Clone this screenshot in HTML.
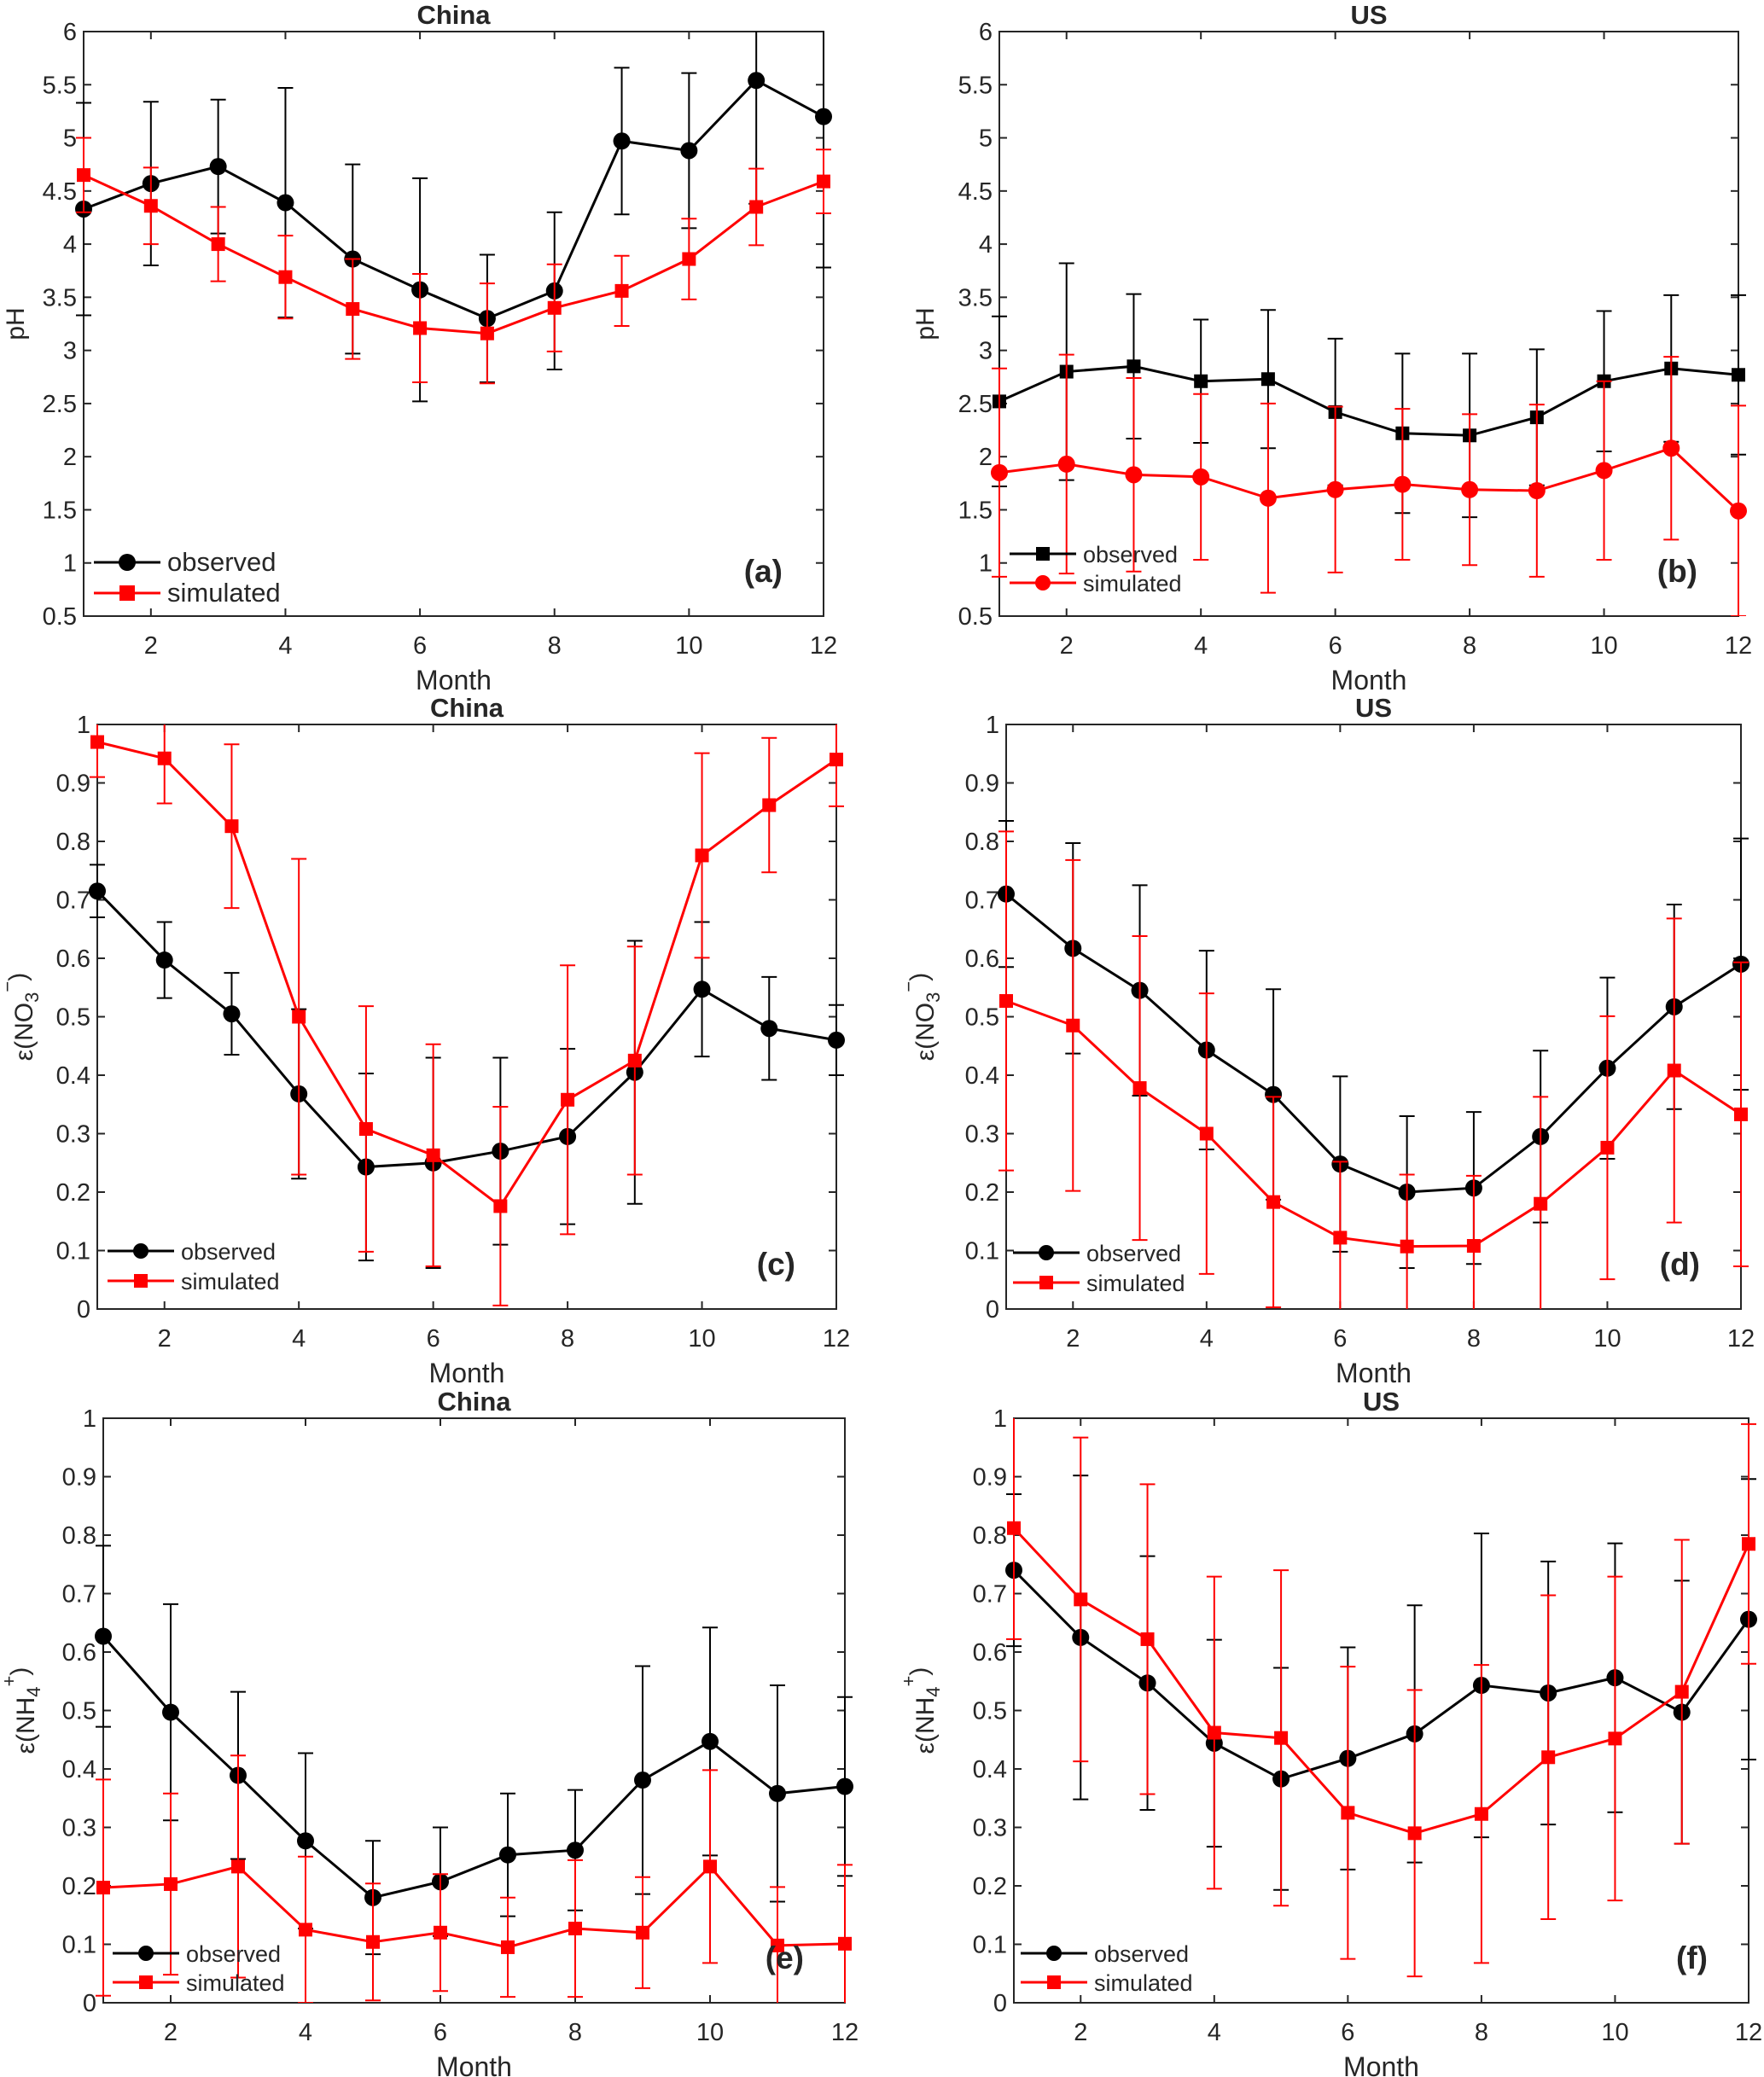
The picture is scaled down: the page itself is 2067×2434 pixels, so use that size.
<!DOCTYPE html>
<html><head><meta charset="utf-8"><style>
body{margin:0;background:#fff}
svg{display:block}
text{font-family:"Liberation Sans",Arial,sans-serif;fill:#262626}
</style></head><body>
<svg id="fig" width="2067" height="2434" viewBox="0 0 2067 2434" xmlns="http://www.w3.org/2000/svg"></svg>
<script>
const months=[1,2,3,4,5,6,7,8,9,10,11,12];
const xTickLabels=["2","4","6","8","10","12"];
const phTicks=["0.5","1","1.5","2","2.5","3","3.5","4","4.5","5","5.5","6"];
const epsTicks=["0","0.1","0.2","0.3","0.4","0.5","0.6","0.7","0.8","0.9","1"];
// (a) China pH
const aObs=[4.33,4.57,4.73,4.39,3.86,3.57,3.30,3.56,4.97,4.88,5.54,5.20];
const aObsErr=[1.0,0.77,0.63,1.08,0.89,1.05,0.60,0.74,0.69,0.73,1.16,1.42];
const aSim=[4.65,4.36,4.00,3.69,3.39,3.21,3.16,3.40,3.56,3.86,4.35,4.59];
const aSimErr=[0.35,0.36,0.35,0.39,0.47,0.51,0.47,0.41,0.33,0.38,0.36,0.30];
// (b) US pH
const bObs=[2.52,2.80,2.85,2.71,2.73,2.42,2.22,2.20,2.37,2.71,2.83,2.77];
const bObsErr=[0.8,1.02,0.68,0.58,0.65,0.69,0.75,0.77,0.64,0.66,0.69,0.75];
const bSim=[1.85,1.93,1.83,1.81,1.61,1.69,1.74,1.69,1.68,1.87,2.08,1.49];
const bSimErr=[0.98,1.03,0.91,0.78,0.89,0.78,0.71,0.71,0.81,0.84,0.86,0.99];
// (c) China NO3
const cObs=[0.715,0.597,0.505,0.368,0.243,0.250,0.270,0.295,0.405,0.547,0.480,0.460];
const cObsErr=[0.045,0.065,0.07,0.145,0.16,0.18,0.16,0.15,0.225,0.115,0.088,0.06];
const cSim=[0.970,0.942,0.826,0.500,0.308,0.263,0.176,0.358,0.425,0.776,0.862,0.940];
const cSimErr=[0.06,0.077,0.14,0.27,0.21,0.19,0.17,0.23,0.195,0.175,0.115,0.08];
// (d) US NO3
const dObs=[0.710,0.617,0.545,0.443,0.367,0.248,0.200,0.207,0.295,0.412,0.517,0.590];
const dObsErr=[0.125,0.18,0.18,0.17,0.18,0.15,0.13,0.13,0.147,0.155,0.175,0.215];
const dSim=[0.527,0.485,0.378,0.300,0.183,0.122,0.107,0.108,0.180,0.276,0.408,0.333];
const dSimErr=[0.29,0.283,0.26,0.24,0.18,0.13,0.123,0.12,0.183,0.225,0.26,0.26];
// (e) China NH4
const eObs=[0.627,0.497,0.389,0.277,0.180,0.207,0.253,0.261,0.381,0.447,0.358,0.370];
const eObsErr=[0.155,0.185,0.143,0.15,0.097,0.093,0.105,0.103,0.195,0.195,0.185,0.153];
const eSim=[0.197,0.203,0.233,0.125,0.104,0.120,0.095,0.127,0.120,0.233,0.098,0.101];
const eSimErr=[0.185,0.155,0.19,0.125,0.1,0.1,0.085,0.117,0.095,0.165,0.10,0.135];
// (f) US NH4
const fObs=[0.740,0.625,0.547,0.444,0.383,0.418,0.460,0.543,0.530,0.556,0.497,0.656];
const fObsErr=[0.13,0.277,0.217,0.177,0.19,0.19,0.22,0.26,0.225,0.23,0.225,0.24];
const fSim=[0.812,0.690,0.622,0.462,0.453,0.325,0.290,0.323,0.420,0.452,0.532,0.785];
const fSimErr=[0.19,0.277,0.265,0.267,0.287,0.25,0.245,0.255,0.277,0.277,0.26,0.205];

const NS="http://www.w3.org/2000/svg";
const svg=document.getElementById('fig');
function mk(tag,attrs,parent){const e=document.createElementNS(NS,tag);for(const k in attrs)e.setAttribute(k,attrs[k]);(parent||svg).appendChild(e);return e;}

function marker(g,shape,x,y,color,size){
  if(shape==='circle'){return mk('circle',{cx:x,cy:y,r:size,fill:color},g);}
  return mk('rect',{x:x-size,y:y-size,width:size*2,height:size*2,fill:color},g);
}

function panel(p){
  const g=mk('g',{});
  
  
  const X=m=>p.L+(m-1)*(p.R-p.L)/11;
  const Y=v=>p.B-(v-p.ymin)*(p.B-p.T)/(p.ymax-p.ymin);
  const cid='clip-'+p.name;
  const cp=mk('clipPath',{id:cid},g);mk('rect',{x:p.L-20,y:p.T,width:p.R-p.L+40,height:p.B-p.T},cp);
  // title
  const t=mk('text',{x:(p.L+p.R)/2,y:p.T-9,'text-anchor':'middle','font-size':31,'font-weight':'bold'},g);
  t.textContent=p.title;
  // axes frame
  const fr=mk('rect',{x:p.L,y:p.T,width:p.R-p.L,height:p.B-p.T,fill:'none',stroke:'#262626','stroke-width':2},g);
  
  // y ticks
  p.yticks.forEach(lbl=>{
    const v=parseFloat(lbl),y=Y(v);
    mk('line',{x1:p.L,y1:y,x2:p.L+9,y2:y,stroke:'#262626','stroke-width':2},g);
    mk('line',{x1:p.R,y1:y,x2:p.R-9,y2:y,stroke:'#262626','stroke-width':2},g);
    const tx=mk('text',{x:p.L-8,y:y+10,'text-anchor':'end','font-size':29},g);
    tx.textContent=lbl;
  });
  xTickLabels.forEach(lbl=>{
    const x=X(parseFloat(lbl));
    mk('line',{x1:x,y1:p.B,x2:x,y2:p.B-9,stroke:'#262626','stroke-width':2},g);
    mk('line',{x1:x,y1:p.T,x2:x,y2:p.T+9,stroke:'#262626','stroke-width':2},g);
    const tx=mk('text',{x:x,y:p.B+44,'text-anchor':'middle','font-size':29},g);
    tx.textContent=lbl;
  });
  const xl=mk('text',{x:(p.L+p.R)/2,y:p.B+86,'text-anchor':'middle','font-size':32},g);
  xl.textContent='Month';
  const yl=mk('text',{x:0,y:0,'text-anchor':'middle','font-size':30,transform:`translate(${p.yLabelX},${(p.T+p.B)/2}) rotate(-90)`},g);
  
  if(p.ylabel==='pH'){yl.textContent='pH';}
  else{
    const a=mk('tspan',{},yl);a.textContent='ε(';
    const b=mk('tspan',{},yl);b.textContent=p.ylabel==='NO3'?'NO':'NH';
    const c=mk('tspan',{'baseline-shift':'-30%','font-size':22},yl);c.textContent=p.ylabel==='NO3'?'3':'4';
    const d=mk('tspan',{dy:-22,'font-size':22},yl);d.textContent=p.ylabel==='NO3'?'−':'+';
    const e=mk('tspan',{dy:15},yl);e.textContent=')';
  }
  // series
  const data=mk('g',{'clip-path':`url(#${cid})`},g);
  p.series.forEach(s=>{
    const sg=mk('g',{},data);
    
    s.vals.forEach((v,i)=>{
      const x=X(months[i]),y1=Y(v+s.err[i]),y2=Y(v-s.err[i]);
      const eb=mk('path',{d:`M${x},${y1}V${y2}M${x-9},${y1}H${x+9}M${x-9},${y2}H${x+9}`,stroke:s.color,'stroke-width':2,fill:'none'},sg);
      
    });
    const pts=s.vals.map((v,i)=>X(months[i])+','+Y(v)).join(' ');
    const ln=mk('polyline',{points:pts,fill:'none',stroke:s.color,'stroke-width':3},sg);
    
    s.vals.forEach((v,i)=>{
      const m=marker(sg,s.shape,X(months[i]),Y(v),s.color,s.shape==='circle'?10:8);
      
    });
  });
  // legend
  const lg=mk('g',{},g);
  
  p.series.forEach((s,k)=>{
    const y=p.B+p.legY[k];
    mk('line',{x1:p.L+p.legX,y1:y,x2:p.L+p.legX+p.legW,y2:y,stroke:s.color,'stroke-width':3},lg);
    const m=marker(lg,s.shape,p.L+p.legX+p.legW/2,y,s.color,s.shape==='circle'?p.legMs:p.legMs-1);
    
    const tx=mk('text',{x:p.L+p.legX+p.legW+8,y:y+10,'font-size':p.legFs,fill:'#000'},lg);
    tx.textContent=s.label;
  });
  const pl=mk('text',{x:p.R-48,y:p.B-40,'text-anchor':'end','font-size':37,'font-weight':'bold',fill:'#000'},g);
  pl.textContent=p.tag;
}

const S=(key,vals,err,color,shape,label)=>({key,vals,err,color,shape,label});
panel({name:'panel-a-china-ph',title:'China',tag:'(a)',L:98,R:965,T:37,B:722,ymin:0.5,ymax:6,yticks:phTicks,ylabel:'pH',yLabelX:28,
  series:[S('observed',aObs,aObsErr,'#000','circle','observed'),S('simulated',aSim,aSimErr,'#f00','square','simulated')],
  legX:12,legW:78,legY:[-63,-27],legFs:31,legMs:10});
panel({name:'panel-b-us-ph',title:'US',tag:'(b)',L:1171,R:2037,T:37,B:722,ymin:0.5,ymax:6,yticks:phTicks,ylabel:'pH',yLabelX:1094,
  series:[S('observed',bObs,bObsErr,'#000','square','observed'),S('simulated',bSim,bSimErr,'#f00','circle','simulated')],
  legX:12,legW:78,legY:[-73,-39],legFs:27,legMs:9});
panel({name:'panel-c-china-no3',title:'China',tag:'(c)',L:114,R:980,T:849,B:1534,ymin:0,ymax:1,yticks:epsTicks,ylabel:'NO3',yLabelX:38,
  series:[S('observed',cObs,cObsErr,'#000','circle','observed'),S('simulated',cSim,cSimErr,'#f00','square','simulated')],
  legX:12,legW:78,legY:[-68,-33],legFs:27,legMs:9});
panel({name:'panel-d-us-no3',title:'US',tag:'(d)',L:1179,R:2040,T:849,B:1534,ymin:0,ymax:1,yticks:epsTicks,ylabel:'NO3',yLabelX:1094,
  series:[S('observed',dObs,dObsErr,'#000','circle','observed'),S('simulated',dSim,dSimErr,'#f00','square','simulated')],
  legX:8,legW:78,legY:[-66,-31],legFs:27,legMs:9});
panel({name:'panel-e-china-nh4',title:'China',tag:'(e)',L:121,R:990,T:1662,B:2347,ymin:0,ymax:1,yticks:epsTicks,ylabel:'NH4',yLabelX:40,
  series:[S('observed',eObs,eObsErr,'#000','circle','observed'),S('simulated',eSim,eSimErr,'#f00','square','simulated')],
  legX:11,legW:78,legY:[-58,-24],legFs:27,legMs:9});
panel({name:'panel-f-us-nh4',title:'US',tag:'(f)',L:1188,R:2049,T:1662,B:2347,ymin:0,ymax:1,yticks:epsTicks,ylabel:'NH4',yLabelX:1094,
  series:[S('observed',fObs,fObsErr,'#000','circle','observed'),S('simulated',fSim,fSimErr,'#f00','square','simulated')],
  legX:8,legW:78,legY:[-58,-24],legFs:27,legMs:9});
</script>
</body></html>
